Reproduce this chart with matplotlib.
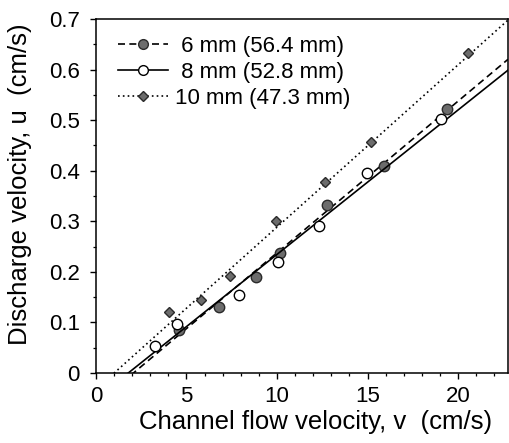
import numpy as np
import matplotlib
matplotlib.use("Agg")
import matplotlib.pyplot as plt
from matplotlib.ticker import MultipleLocator

plt.rcParams['font.family'] = ['Liberation Sans', 'DejaVu Sans']

# --- data ---
labels = [" 6 mm (56.4 mm)", " 8 mm (52.8 mm)", "10 mm (47.3 mm)"]

v_6mm = [4.60, 6.78, 8.82, 10.15, 12.77, 15.90, 19.36]
u_6mm = [0.085, 0.131, 0.189, 0.238, 0.332, 0.410, 0.523]

v_8mm = [3.27, 4.47, 7.89, 10.07, 12.33, 14.95, 19.04]
u_8mm = [0.054, 0.097, 0.154, 0.219, 0.291, 0.396, 0.502]

v_10mm = [4.01, 5.79, 7.38, 9.96, 12.66, 15.20, 20.52]
u_10mm = [0.120, 0.144, 0.192, 0.301, 0.378, 0.456, 0.632]

# fitted lines (slope, intercept)
fit_slopes = [0.0300, 0.02857, 0.0321]
fit_intercepts = [-0.0622, -0.0511, -0.0324]

x_ticks = [0, 5, 10, 15, 20]
y_ticks = [0, 0.1, 0.2, 0.3, 0.4, 0.5, 0.6, 0.7]

fig = plt.figure(figsize=(5.10, 4.43), dpi=100)
ax = fig.add_axes([0.188, 0.158, 0.808, 0.799])

xlim = (0, 22.75)
ylim = (0, 0.70)
xx = np.array(xlim)

series = [
    (v_6mm, u_6mm, dict(ls=(0, (4.2, 2.6)), marker='o', mfc='#6c6c6c', mec='#2a2a2a', ms=7.5)),
    (v_8mm, u_8mm, dict(ls='-', marker='o', mfc='white', mec='black', ms=7.5)),
    (v_10mm, u_10mm, dict(ls=(0, (1.0, 1.9)), marker='D', mfc='#6c6c6c', mec='#2a2a2a', ms=5.5)),
]

for (vx, uy, st), lab, m, b in zip(series, labels, fit_slopes, fit_intercepts):
    ax.plot(xx, m * xx + b, color='black', lw=1.2, ls=st['ls'])
    ax.plot(vx, uy, ls='none', marker=st['marker'], mfc=st['mfc'], mec=st['mec'],
            ms=st['ms'], mew=1.0)
    ax.plot([], [], color='black', lw=1.2, ls=st['ls'], marker=st['marker'],
            mfc=st['mfc'], mec=st['mec'], ms=st['ms'] - 0.5, mew=1.0, label=lab)

ax.set_xlim(*xlim)
ax.set_ylim(*ylim)
ax.set_xticks(x_ticks)
ax.set_xticklabels([str(t) for t in x_ticks])
ax.set_yticks(y_ticks)
ax.set_yticklabels(["0" if t == 0 else f"{t:.1f}" for t in y_ticks])
ax.xaxis.set_minor_locator(MultipleLocator(1))
ax.yaxis.set_minor_locator(MultipleLocator(0.05))

ax.tick_params(which='major', direction='out', length=4.5, width=1.0, labelsize=16,
               top=False, right=False)
ax.tick_params(axis='x', which='major', pad=4.5)
ax.tick_params(axis='y', which='major', pad=7)
ax.tick_params(which='minor', direction='out', length=2.5, width=0.9,
               top=False, right=False)
for sp in ax.spines.values():
    sp.set_linewidth(1.1)

ax.set_xlabel("Channel flow velocity, v  (cm/s)", fontsize=18.5)
ax.set_ylabel("Discharge velocity, u  (cm/s)", fontsize=18.5)
ax.xaxis.set_label_coords(0.533, -0.104)
ax.yaxis.set_label_coords(-0.156, 0.534)

leg = ax.legend(loc='upper left', frameon=False, fontsize=16, handlelength=2.25,
                handletextpad=0.3, labelspacing=0.23, borderaxespad=0.0, borderpad=0.0,
                bbox_to_anchor=(0.0535, 0.952))

fig.savefig("out.png", dpi=100)
